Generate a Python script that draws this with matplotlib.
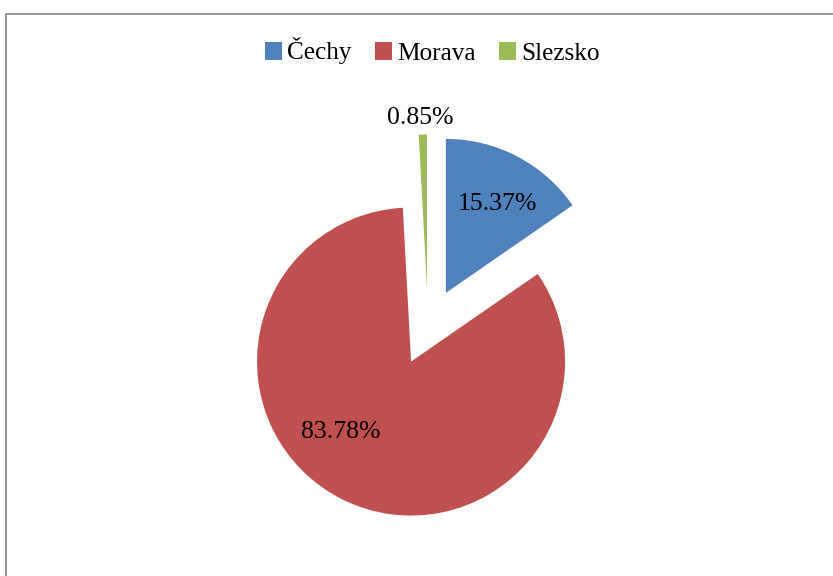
import matplotlib.pyplot as plt
from matplotlib.patches import Patch, Rectangle

regions = ['Čechy', 'Morava', 'Slezsko']
shares = [15.37, 83.78, 0.85]
colors = ['#4F81BD', '#C0504D', '#9BBB59']
explode = [0.25, 0.25, 0.25]

plt.rcParams['font.family'] = ['Liberation Serif', 'DejaVu Serif']

W, H = 833, 576
fig = plt.figure(figsize=(W / 100, H / 100), dpi=100)

# pie centre / radius in pixels
cx, cy, r = 428, 327, 154
ax = fig.add_axes([0, 0, 1, 1])

wedges, texts, autotexts = ax.pie(
    shares, colors=colors, explode=explode, startangle=90,
    counterclock=False, autopct='%.2f%%', pctdistance=0.66,
    textprops={'fontsize': 18.5, 'color': 'black'},
    wedgeprops={'linewidth': 0})

ax.set_xlim(-cx / r, (W - cx) / r)
ax.set_ylim(-(H - cy) / r, cy / r)
ax.set_aspect('equal')
ax.axis('off')

# Excel style placement of the labels
autotexts[0].set_position((0.45, 0.8))
autotexts[1].set_position((-0.565, -0.68))
autotexts[2].set_position((-0.05, 1.36))

handles = [Patch(facecolor=c, edgecolor='none') for c in colors]
fig.legend(handles, regions, loc='center', bbox_to_anchor=(0.519, 1 - 51 / H),
           ncol=3, frameon=False, fontsize=18.2, handlelength=0.7,
           handleheight=0.7, handletextpad=0.2, columnspacing=0.9)

# chart border (runs off the right and bottom edge)
fig.patches.append(Rectangle((5.5 / W, -0.1), 1.2, 1.1 - 13.5 / H,
                             transform=fig.transFigure, fill=False,
                             edgecolor='#8c8c8c', linewidth=1.3))

fig.savefig('out.png', dpi=100)
